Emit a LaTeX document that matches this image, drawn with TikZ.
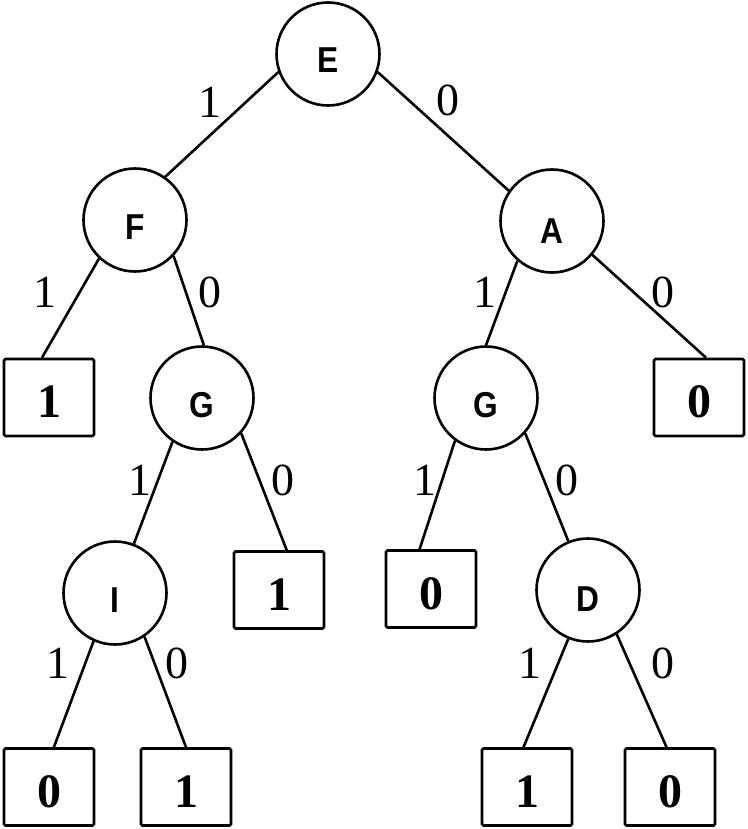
\documentclass[tikz,border=0pt]{standalone}
\usepackage{fontspec}
\setmainfont{Liberation Serif}
\newfontfamily\letterfont[FakeStretch=0.88]{Liberation Sans}
\begin{document}
\begin{tikzpicture}[x=1pt,y=-1pt,
  circ/.style={circle, draw, line width=2.6pt, minimum size=103pt, inner sep=0pt,
    font=\letterfont\bfseries\fontsize{36}{36}\selectfont, text height=38pt, text depth=0pt},
  leaf/.style={rectangle, draw, line width=2.6pt, rounded corners=1.5pt,
    minimum width=90pt, minimum height=77pt, inner sep=0pt,
    font=\bfseries\fontsize{48}{48}\selectfont, text height=40pt, text depth=0pt},
  conn/.style={line width=2.6pt},
  lbl/.style={inner sep=0pt, font=\fontsize{46}{46}\selectfont}]
\useasboundingbox (0,0) rectangle (747,829);
% inner nodes
\node[circ] (E)  at (328,54)  {E};
\node[circ] (F)  at (135,220) {F};
\node[circ, text height=44pt] (A)  at (552,221) {A};
\node[circ] (Gl) at (202,398) {G};
\node[circ] (Gr) at (486,398) {G};
\node[circ] (I)  at (115,593) {I};
\node[circ, text height=42pt] (D)  at (588,590) {D};
% leaves
\node[leaf] (b1)   at (49,397.5)  {1};
\node[leaf] (b0r)  at (699,397.5) {0};
\node[leaf] (b1m)  at (279,590)   {1};
\node[leaf] (b0m)  at (431,589)   {0};
\node[leaf] (bb0)  at (49,787)    {0};
\node[leaf] (bb1)  at (186,787)   {1};
\node[leaf] (bb1r) at (527,787)   {1};
\node[leaf] (bb0r) at (670,787)   {0};
% connectors
\draw[conn] (E.200) -- (F.55);
\draw[conn] (E.-20) -- (A.145);
\draw[conn] (F.-133) -- (b1.100);
\draw[conn] (F.-43) -- (Gl.88);
\draw[conn] (A.-131) -- (Gr.north);
\draw[conn] (A.-40) -- (b0r.80);
\draw[conn] (Gl.-124) -- (I.69);
\draw[conn] (Gl.-42) -- (b1m.79);
\draw[conn] (Gr.-126) -- (b0m.106);
\draw[conn] (Gr.-42) -- (D.112);
\draw[conn] (I.-114) -- (bb0.83);
\draw[conn] (I.-56) -- (bb1.north);
\draw[conn] (D.-112) -- (bb1r.95);
\draw[conn] (D.-57) -- (bb0r.95);
% edge labels
\node[lbl] (l1) at (210,102) {1};
\node[lbl] (l2) at (448,100) {0};
\node[lbl] (l3) at (45,292)  {1};
\node[lbl] (l4) at (210,292) {0};
\node[lbl] (l5) at (485,292) {1};
\node[lbl] (l6) at (663,292) {0};
\node[lbl] (l7) at (140,480) {1};
\node[lbl] (l8) at (283,480) {0};
\node[lbl] (l9) at (425,480) {1};
\node[lbl] (l10) at (567,480) {0};
\node[lbl] (l11) at (58,663)  {1};
\node[lbl] (l12) at (177,663) {0};
\node[lbl] (l13) at (530,663) {1};
\node[lbl] (l14) at (663,663) {0};
\end{tikzpicture}
\end{document}
